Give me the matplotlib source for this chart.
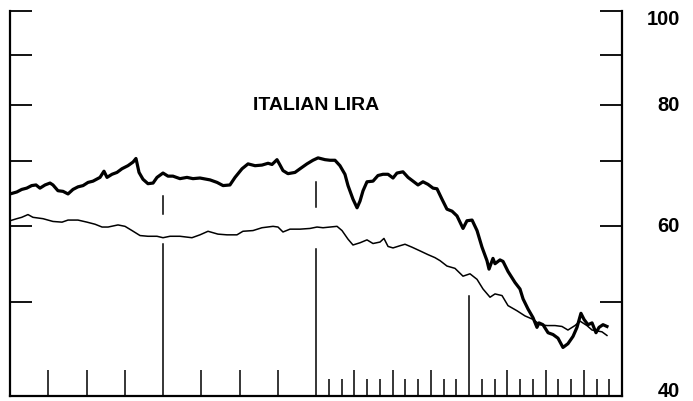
import matplotlib
matplotlib.use("Agg")
import matplotlib.pyplot as plt
from matplotlib.ticker import NullFormatter, NullLocator, FixedLocator
import matplotlib.transforms as mtransforms

# ---- data (months from start of period, index value) ----
heavy_month = [0.0, 0.53, 0.92, 1.31, 1.70, 2.04, 2.35, 2.75, 3.14, 3.37, 3.76, 4.16, 4.55, 4.94,
               5.33, 5.73, 6.12, 6.51, 7.06, 7.37, 7.61, 8.0, 8.39, 8.78, 9.25, 9.65, 9.88, 10.12,
               10.43, 10.82, 11.22, 11.53, 12.0, 12.39, 12.78, 13.33, 13.88, 14.35, 14.9, 15.69,
               16.24, 16.71, 17.25, 17.65, 18.2, 18.67, 19.22, 19.76, 20.24, 20.55, 20.94, 21.18,
               21.41, 21.8, 22.35, 22.75, 23.29, 23.76, 24.16, 24.71, 25.1, 25.49, 25.88, 26.27,
               26.51, 26.9, 27.22, 27.45, 27.69, 28.0, 28.47, 28.86, 29.25, 29.65, 30.04, 30.35,
               30.82, 31.22, 31.61, 32.0, 32.39, 32.78, 33.18, 33.49, 33.88, 34.27, 34.67, 35.06,
               35.53, 35.84, 36.24, 36.63, 37.02, 37.41, 37.57, 37.88, 38.04, 38.43, 38.67, 39.06,
               39.61, 40.0, 40.24, 40.63, 41.02, 41.33, 41.49, 41.8, 42.2, 42.59, 42.98, 43.37,
               43.76, 44.16, 44.47, 44.78, 45.02, 45.33, 45.65, 45.96, 46.2, 46.51, 46.82]
heavy_value = [64.7, 65.0, 65.4, 65.6, 66.0, 66.1, 65.6, 66.1, 66.4, 66.1, 65.2, 65.1, 64.7, 65.4,
               65.8, 66.0, 66.5, 66.7, 67.3, 68.3, 67.3, 67.8, 68.1, 68.7, 69.2, 69.8, 70.4, 68.1,
               67.0, 66.3, 66.4, 67.3, 68.0, 67.5, 67.5, 67.1, 67.3, 67.1, 67.2, 66.9,
               66.5, 66.0, 66.1, 67.3, 68.7, 69.5, 69.2, 69.3, 69.6, 69.4, 70.2, 69.3,
               68.4, 67.9, 68.1, 68.7, 69.5, 70.1, 70.5, 70.2, 70.1, 70.1, 69.2, 67.8,
               66.0, 63.9, 62.6, 63.6, 65.2, 66.6, 66.7, 67.6, 67.8, 67.8, 67.2, 68.0,
               68.2, 67.3, 66.7, 66.1, 66.6, 66.2, 65.6, 65.5, 63.9, 62.4, 62.1, 61.4,
               59.6, 60.7, 60.8, 59.3, 57.0, 55.2, 54.1, 55.5, 54.8, 55.3, 55.1, 53.8,
               52.4, 51.6, 50.4, 49.2, 48.2, 47.1, 47.6, 47.4, 46.5, 46.3, 45.9, 44.9,
               45.3, 46.1, 47.1, 48.7, 48.0, 47.4, 47.6, 46.5, 47.1, 47.4, 47.2]

light_month = [0.0, 0.53, 0.92, 1.41, 1.8, 2.59, 3.37, 4.08, 4.55, 5.33, 6.04, 6.67, 7.22, 7.69,
               8.47, 9.02, 9.57, 10.2, 10.82, 11.53, 12.0, 12.55, 13.33, 14.27, 14.9, 15.53, 16.31,
               17.02, 17.8, 18.27, 19.06, 19.76, 20.63, 21.02, 21.41, 21.96, 22.75, 23.53, 24.08,
               24.55, 25.1, 25.65, 26.04, 26.51, 26.9, 27.45, 28.0, 28.47, 29.02, 29.33, 29.65,
               30.04, 30.59, 30.98, 31.53, 32.16, 32.78, 33.33, 33.73, 34.27, 34.9, 35.53, 36.08,
               36.63, 37.1, 37.65, 38.04, 38.59, 39.06, 39.76, 40.39, 41.02, 41.57, 42.12, 42.75,
               43.29, 43.76, 44.31, 44.71, 45.25, 45.65, 46.04, 46.43, 46.82]
light_value = [60.7, 61.0, 61.2, 61.6, 61.2, 61.0, 60.6, 60.5, 60.8, 60.8, 60.5, 60.2, 59.8, 59.8,
               60.1, 59.9, 59.3, 58.6, 58.5, 58.5, 58.3, 58.5, 58.5, 58.3, 58.7, 59.2, 58.8,
               58.7, 58.7, 59.2, 59.3, 59.7, 59.9, 59.8, 59.1, 59.5, 59.5, 59.6, 59.8,
               59.7, 59.8, 59.9, 59.3, 58.1, 57.3, 57.6, 58.0, 57.5, 57.7, 58.2, 57.1,
               56.9, 57.2, 57.4, 57.0, 56.5, 56.0, 55.6, 55.2, 54.5, 54.2, 53.2, 53.5,
               52.8, 51.6, 50.6, 51.0, 50.8, 49.6, 49.0, 48.4, 48.0, 47.4, 47.3, 47.3,
               47.2, 46.8, 47.3, 47.8, 47.3, 46.8, 46.7, 46.6, 46.2]

title = "ITALIAN LIRA"
y_ticks = [40, 50, 60, 70, 80, 90, 100]
y_labels = [100, 80, 60, 40]
quarter_ticks = [3, 6, 9, 15, 18, 21, 27, 30, 33, 39, 42, 45]
month_ticks = [25, 26, 28, 29, 31, 32, 34, 35, 37, 38, 40, 41, 43, 44, 46, 47]
year_marks = [12, 24, 36]
year_line_top = [57.5, 56.8, 50.8]
year_seg_low = [61.7, 62.7, None]
year_seg_high = [64.4, 66.6, None]

fig = plt.figure(figsize=(6.93, 4.02), dpi=100)
ax = fig.add_axes([10 / 693, 5 / 402, 612 / 693, 385 / 402])
ax.set_yscale("log")
ax.set_xlim(0, 48)
ax.set_ylim(40, 100)

ax.plot(light_month, light_value, color="black", lw=1.1, solid_joinstyle="round")
ax.plot(heavy_month, heavy_value, color="black", lw=2.3, solid_joinstyle="round")

for m, top, lo, hi in zip(year_marks, year_line_top, year_seg_low, year_seg_high):
    ax.plot([m, m], [40, top], color="black", lw=1.1)
    if lo is not None:
        ax.plot([m, m], [lo, hi], color="black", lw=1.1)

ax.spines["top"].set_visible(False)
for s in ("left", "right", "bottom"):
    ax.spines[s].set_linewidth(1.6)

ax.yaxis.set_major_locator(FixedLocator(y_ticks))
ax.yaxis.set_minor_locator(NullLocator())
ax.yaxis.set_major_formatter(NullFormatter())
ax.yaxis.set_minor_formatter(NullFormatter())
ax.tick_params(axis="y", which="major", direction="in", length=16, width=1.3,
               left=True, right=True, labelleft=False, labelright=False)

ax.set_xticks(quarter_ticks)
ax.set_xticks(month_ticks, minor=True)
ax.tick_params(axis="x", which="major", direction="in", length=18.5, width=1.1, labelbottom=False)
ax.tick_params(axis="x", which="minor", direction="in", length=12, width=1.1)

ytrans = ax.get_yaxis_transform()
for v in y_labels:
    dy = 0
    if v == max(y_labels):
        dy = -8
    elif v == min(y_labels):
        dy = 5
    t = ytrans + mtransforms.ScaledTranslation(0, dy / 100, fig.dpi_scale_trans)
    ax.text((680 - 10) / 612, v, str(v), transform=t, ha="right", va="center",
            fontsize=14.5, fontweight="bold", family="Liberation Sans")

fig.text(316 / 693, 1 - 105 / 402, title, ha="center", va="center",
         fontsize=14, fontweight="bold", family="Liberation Sans")

fig.savefig("out.png", dpi=100)
